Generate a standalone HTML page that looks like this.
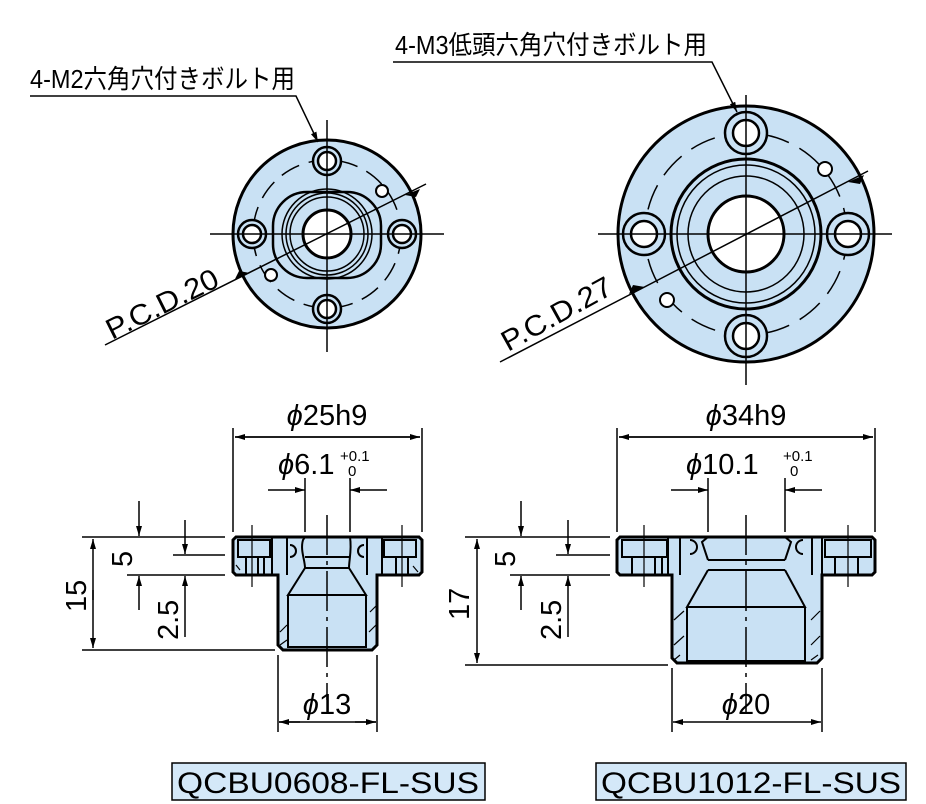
<!DOCTYPE html>
<html><head><meta charset="utf-8"><style>
html,body{margin:0;padding:0;background:#fff;}
svg{display:block;}
text{font-family:"Liberation Sans","Noto Sans CJK JP",sans-serif;fill:#000;}
</style></head><body>
<svg width="926" height="804" viewBox="0 0 926 804" xmlns="http://www.w3.org/2000/svg">
<defs>
<marker id="a" viewBox="0 0 10 6" refX="10" refY="3" markerWidth="14" markerHeight="6" markerUnits="userSpaceOnUse" orient="auto"><path d="M0,0 L10,3 L0,6z" fill="#000"/></marker>
</defs>
<g stroke="#000" fill="none">

<!-- ===== LEFT TOP VIEW ===== -->
<g>
<circle cx="327" cy="234" r="94" fill="#c9e1f4" stroke-width="3"/>
<circle cx="327" cy="234" r="74" stroke-width="1.5" stroke-dasharray="20,10"/>
<rect x="273" y="192" width="108" height="86" rx="34" stroke-width="2.5"/>
<circle cx="327" cy="234" r="45" stroke-width="1.5"/>
<circle cx="327" cy="234" r="41" stroke-width="1.5"/>
<circle cx="327" cy="234" r="37" stroke-width="1.5"/>
<circle cx="327" cy="234" r="24" fill="#fff" stroke-width="3"/>
<g fill="#fff" stroke-width="2.5">
<circle cx="327" cy="161" r="14" fill="#c9e1f4"/><circle cx="327" cy="161" r="9"/>
<circle cx="327" cy="309" r="14" fill="#c9e1f4"/><circle cx="327" cy="309" r="9"/>
<circle cx="252" cy="234" r="14" fill="#c9e1f4"/><circle cx="252" cy="234" r="9"/>
<circle cx="402" cy="234" r="14" fill="#c9e1f4"/><circle cx="402" cy="234" r="9"/>
<circle cx="382" cy="191" r="6" stroke-width="2"/>
<circle cx="271" cy="275" r="6" stroke-width="2"/>
</g>
<line x1="327" y1="120" x2="327" y2="352" stroke-width="1.5"/>
<line x1="210" y1="234" x2="444" y2="234" stroke-width="1.5"/>
<line x1="105" y1="345" x2="426" y2="184" stroke-width="1.5"/>
<path d="M250,273 l-15,6 l4,-8z" fill="#000" stroke="none"/>
<path d="M405,195 l15,-6 l-4,8z" fill="#000" stroke="none"/>
</g>

<!-- ===== RIGHT TOP VIEW ===== -->
<g>
<circle cx="746" cy="234" r="128" fill="#c9e1f4" stroke-width="3"/>
<circle cx="746" cy="234" r="101" stroke-width="1.5" stroke-dasharray="26,12"/>
<circle cx="746" cy="234" r="75" stroke-width="3"/>
<circle cx="746" cy="234" r="69" stroke-width="1.5"/>
<circle cx="746" cy="234" r="58" stroke-width="1.5"/>
<circle cx="746" cy="234" r="38" fill="#fff" stroke-width="3"/>
<g fill="#fff" stroke-width="2.5">
<circle cx="746" cy="133" r="21" fill="#c9e1f4"/><circle cx="746" cy="133" r="13"/>
<circle cx="746" cy="336" r="21" fill="#c9e1f4"/><circle cx="746" cy="336" r="13"/>
<circle cx="644" cy="234" r="21" fill="#c9e1f4"/><circle cx="644" cy="234" r="13"/>
<circle cx="848" cy="234" r="21" fill="#c9e1f4"/><circle cx="848" cy="234" r="13"/>
<circle cx="825" cy="169" r="7" stroke-width="2"/>
<circle cx="667" cy="300" r="7" stroke-width="2"/>
</g>
<line x1="746" y1="95" x2="746" y2="385" stroke-width="1.5"/>
<line x1="598" y1="234" x2="892" y2="234" stroke-width="1.5"/>
<line x1="500" y1="362" x2="868" y2="171" stroke-width="1.5"/>
<path d="M645,287 l-16,7 l4,-9z" fill="#000" stroke="none"/>
<path d="M848,182 l16,-7 l-4,9z" fill="#000" stroke="none"/>
</g>

<!-- leaders -->
<path d="M30,96 H296 L318,142" stroke-width="1.5" marker-end="url(#a)"/>
<path d="M393,62 H712 L737,112" stroke-width="1.5" marker-end="url(#a)"/>

<!-- ===== LEFT SIDE VIEW ===== -->
<g stroke-width="2.5">
<path d="M236,537 H419 L422,540 V572 L419,575 H377 V645 L372,650 H283 L278,645 V575 H236 L233,572 V540Z" fill="#c9e1f4" stroke-width="3"/>
<rect x="238" y="540" width="32" height="17" stroke-width="2"/>
<rect x="384" y="540" width="32" height="17" stroke-width="2"/>
<path d="M246,557V575 M258,557V575 M264,557V575 M272,537V575 M396,557V575 M408,557V575 M382,537V575" stroke-width="2"/>
<path d="M287,537 V575 M367,537 V575" stroke-width="2"/>
<path d="M305,537 L303,540 C300,550 305,560 305,568 M350,537 C352,550 349,560 349,568" stroke-width="2"/>
<path d="M290,545 a6,6 0 0 1 0,12 M364,545 a6,6 0 0 0 0,12" stroke-width="2"/>
<path d="M305,557 H349 M305,568 H349 M305,568 L288,595 H366 L349,568 M288,595 V647 H366 V595" stroke-width="2"/>
<path d="M280,632 L287,625 M280,645 L287,640 M369,632 L376,625 M370,612 L376,606 M240,570 L236,565 M418,572 L413,566" stroke-width="1.2"/>
</g>

<!-- ===== RIGHT SIDE VIEW ===== -->
<g stroke-width="2.5">
<path d="M620,537 H872 L875,540 V572 L872,575 H822 V658 L817,663 H677 L672,658 V575 H620 L617,572 V540Z" fill="#c9e1f4" stroke-width="3"/>
<rect x="622" y="540" width="45" height="17" stroke-width="2"/>
<rect x="825" y="540" width="46" height="17" stroke-width="2"/>
<path d="M632,557V575 M655,557V575 M662,557V575 M668,537V575 M835,557V575 M858,557V575 M822,537V575" stroke-width="2"/>
<path d="M680,537 V575 M812,537 V575" stroke-width="2"/>
<path d="M690,540 a7,7 0 0 1 0,14 M803,540 a7,7 0 0 0 0,14" stroke-width="2"/>
<path d="M708,537 L702,542 L708,560 M785,537 L791,542 L785,560" stroke-width="2"/>
<path d="M708,560 H785 M708,570 H785 M708,570 L687,607 H805 L785,570 M687,607 V661 H805 V607" stroke-width="2"/>
<path d="M674,620 L684,611 M674,645 L684,636 M674,660 L680,655 M811,620 L820,611 M811,645 L820,636 M811,660 L818,655" stroke-width="1.2"/>
</g>

<!-- center lines side views -->
<line x1="327" y1="515" x2="327" y2="700" stroke-width="1.5" stroke-dasharray="40,6,4,6"/>
<line x1="746" y1="515" x2="746" y2="712" stroke-width="1.5" stroke-dasharray="40,6,4,6"/>
<line x1="252" y1="525" x2="252" y2="587" stroke-width="1.2"/>
<line x1="402" y1="525" x2="402" y2="587" stroke-width="1.2"/>
<line x1="644" y1="525" x2="644" y2="587" stroke-width="1.2"/>
<line x1="848" y1="525" x2="848" y2="587" stroke-width="1.2"/>

<!-- ===== DIMENSIONS LEFT ===== -->
<g stroke-width="1.5">
<path d="M233,428 V532 M422,428 V532"/>
<line x1="235" y1="437" x2="420" y2="437" marker-end="url(#a)"/>
<line x1="420" y1="437" x2="235" y2="437" marker-end="url(#a)"/>
<path d="M305,478 V532 M350,478 V532"/>
<line x1="268" y1="490" x2="305" y2="490" marker-end="url(#a)"/>
<line x1="387" y1="490" x2="350" y2="490" marker-end="url(#a)"/>
<path d="M82,537 H225 M127,575 H225 M173,555 H225 M82,650 H275"/>
<line x1="93" y1="600" x2="93" y2="539" marker-end="url(#a)"/>
<line x1="93" y1="590" x2="93" y2="648" marker-end="url(#a)"/>
<line x1="139" y1="501" x2="139" y2="536" marker-end="url(#a)"/>
<line x1="139" y1="610" x2="139" y2="576" marker-end="url(#a)"/>
<line x1="185" y1="520" x2="185" y2="554" marker-end="url(#a)"/>
<line x1="185" y1="637" x2="185" y2="576" marker-end="url(#a)"/>
<path d="M278,655 V732 M377,655 V732"/>
<line x1="300" y1="722" x2="279" y2="722" marker-end="url(#a)"/>
<line x1="355" y1="722" x2="376" y2="722" marker-end="url(#a)"/>
<line x1="279" y1="722" x2="376" y2="722"/>
</g>

<!-- ===== DIMENSIONS RIGHT ===== -->
<g stroke-width="1.5">
<path d="M617,428 V532 M875,428 V532"/>
<line x1="619" y1="437" x2="873" y2="437" marker-end="url(#a)"/>
<line x1="873" y1="437" x2="619" y2="437" marker-end="url(#a)"/>
<path d="M708,478 V532 M785,478 V532"/>
<line x1="671" y1="490" x2="708" y2="490" marker-end="url(#a)"/>
<line x1="822" y1="490" x2="785" y2="490" marker-end="url(#a)"/>
<path d="M465,537 H610 M510,575 H610 M556,555 H610 M465,665 H668"/>
<line x1="477" y1="600" x2="477" y2="539" marker-end="url(#a)"/>
<line x1="477" y1="600" x2="477" y2="663" marker-end="url(#a)"/>
<line x1="521" y1="501" x2="521" y2="536" marker-end="url(#a)"/>
<line x1="521" y1="610" x2="521" y2="576" marker-end="url(#a)"/>
<line x1="568" y1="520" x2="568" y2="554" marker-end="url(#a)"/>
<line x1="568" y1="637" x2="568" y2="576" marker-end="url(#a)"/>
<path d="M672,668 V732 M822,668 V732"/>
<line x1="746" y1="722" x2="673" y2="722" marker-end="url(#a)"/>
<line x1="746" y1="722" x2="821" y2="722" marker-end="url(#a)"/>
</g>
</g>

<!-- ===== TEXT ===== -->
<text x="30" y="88" font-size="26" textLength="265" lengthAdjust="spacingAndGlyphs">4-M2六角穴付きボルト用</text>
<text x="395" y="54" font-size="26" textLength="312" lengthAdjust="spacingAndGlyphs">4-M3低頭六角穴付きボルト用</text>
<text transform="translate(112,340) rotate(-26.6)" font-size="29" textLength="122" lengthAdjust="spacingAndGlyphs">P.C.D.20</text>
<text transform="translate(508,352) rotate(-29)" font-size="29" textLength="122" lengthAdjust="spacingAndGlyphs">P.C.D.27</text>

<text x="327" y="425" font-size="29" text-anchor="middle"><tspan font-style="italic">ϕ</tspan>25h9</text>
<text x="278" y="474" font-size="29"><tspan font-style="italic">ϕ</tspan>6.1</text>
<text x="340" y="461" font-size="15">+0.1</text>
<text x="348" y="476" font-size="15">0</text>
<text x="746" y="425" font-size="29" text-anchor="middle"><tspan font-style="italic">ϕ</tspan>34h9</text>
<text x="686" y="474" font-size="29"><tspan font-style="italic">ϕ</tspan>10.1</text>
<text x="783" y="461" font-size="15">+0.1</text>
<text x="790" y="476" font-size="15">0</text>

<text transform="translate(86,612) rotate(-90)" font-size="29">15</text>
<text transform="translate(132,567) rotate(-90)" font-size="29">5</text>
<text transform="translate(178,640) rotate(-90)" font-size="29">2.5</text>
<text transform="translate(469,620) rotate(-90)" font-size="29">17</text>
<text transform="translate(515,567) rotate(-90)" font-size="29">5</text>
<text transform="translate(561,640) rotate(-90)" font-size="29">2.5</text>

<text x="327" y="714" font-size="29" text-anchor="middle"><tspan font-style="italic">ϕ</tspan>13</text>
<text x="746" y="714" font-size="29" text-anchor="middle"><tspan font-style="italic">ϕ</tspan>20</text>

<rect x="172" y="763" width="313" height="37" fill="#d4e8f8" stroke="#000" stroke-width="1.5"/>
<text x="328" y="793" font-size="30" text-anchor="middle" textLength="302" lengthAdjust="spacingAndGlyphs">QCBU0608-FL-SUS</text>
<rect x="596" y="763" width="310" height="37" fill="#d4e8f8" stroke="#000" stroke-width="1.5"/>
<text x="751" y="793" font-size="30" text-anchor="middle" textLength="300" lengthAdjust="spacingAndGlyphs">QCBU1012-FL-SUS</text>
</svg>
</body></html>
